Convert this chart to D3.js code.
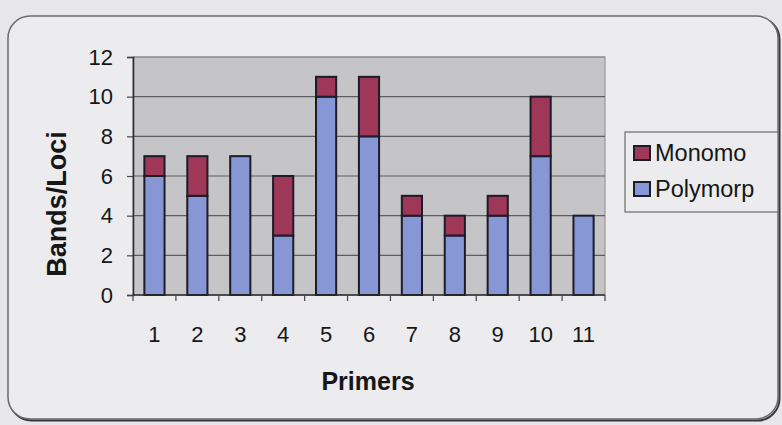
<!DOCTYPE html>
<html>
<head>
<meta charset="utf-8">
<script src="https://cdn.jsdelivr.net/npm/d3@7"></script>
<style>
  html, body { margin: 0; padding: 0; background: #e7e7e9; }
  svg { display: block; font-family: "Liberation Sans", Arial, sans-serif; }
</style>
</head>
<body>
<svg id="chart" width="782" height="425"></svg>
<script>
// Bands per primer, split into polymorphic and monomorphic loci
const primers = ["1", "2", "3", "4", "5", "6", "7", "8", "9", "10", "11"];
const polymorp = [6, 5, 7, 3, 10, 8, 4, 3, 4, 7, 4];
const monomo   = [1, 2, 0, 3, 1, 3, 1, 1, 1, 3, 0];
const seriesNames = ["Polymorp", "Monomo"];
const yTicks = [0, 2, 4, 6, 8, 10, 12];

const colors = { Polymorp: "#8796d4", Monomo: "#9f3759" };

const svg = d3.select("#chart");

// rounded chart frame with a soft shadow along the bottom-right
const frame = { x: 8, y: 16, w: 770, h: 403, r: 22 };
svg.append("rect")
  .attr("x", frame.x + 1.5).attr("y", frame.y + 1.5)
  .attr("width", frame.w).attr("height", frame.h)
  .attr("rx", frame.r)
  .attr("fill", "none").attr("stroke", "#3a3a3a").attr("stroke-width", 2);
svg.append("rect")
  .attr("x", frame.x).attr("y", frame.y)
  .attr("width", frame.w).attr("height", frame.h)
  .attr("rx", frame.r)
  .attr("fill", "#ececee").attr("stroke", "#6a6a6a").attr("stroke-width", 1.5);

const plot = { left: 133, top: 57, right: 605, bottom: 295 };

const x = d3.scaleBand().domain(primers).range([plot.left, plot.right]).padding(0);
const y = d3.scaleLinear().domain([0, 12]).range([plot.bottom, plot.top]);

// plot area
svg.append("rect")
  .attr("x", plot.left).attr("y", plot.top)
  .attr("width", plot.right - plot.left).attr("height", plot.bottom - plot.top)
  .attr("fill", "#c5c5c7").attr("stroke", "#8a8a8a").attr("stroke-width", 1);

// horizontal gridlines
svg.append("g")
  .selectAll("line")
  .data(yTicks.filter(d => d > 0))
  .join("line")
  .attr("x1", plot.left).attr("x2", plot.right)
  .attr("y1", d => y(d)).attr("y2", d => y(d))
  .attr("stroke", d => d === 12 ? "#8a8a8a" : "#5e5e60")
  .attr("stroke-width", 1.2);

// stacked bars
const rows = primers.map((p, i) => ({ primer: p, Polymorp: polymorp[i], Monomo: monomo[i] }));
const stacked = d3.stack().keys(seriesNames)(rows);
const barW = x.bandwidth() * 0.47;

svg.append("g")
  .selectAll("g")
  .data(stacked)
  .join("g")
  .attr("fill", s => colors[s.key])
  .selectAll("rect")
  .data(s => s.filter(d => d[1] > d[0]))
  .join("rect")
  .attr("x", d => x(d.data.primer) + (x.bandwidth() - barW) / 2)
  .attr("y", d => y(d[1]))
  .attr("width", barW)
  .attr("height", d => y(d[0]) - y(d[1]))
  .attr("stroke", "#1c1c28")
  .attr("stroke-width", 2);

// y axis
const yAxis = svg.append("g")
  .attr("transform", `translate(${plot.left},0)`)
  .call(d3.axisLeft(y).tickValues(yTicks).tickSize(6).tickPadding(14));
yAxis.select(".domain").attr("stroke", "#2a2a2a").attr("stroke-width", 1.5);
yAxis.selectAll(".tick line").attr("stroke", "#444").attr("stroke-width", 1.2);
yAxis.selectAll(".tick text")
  .attr("font-size", 22).attr("fill", "#161616")
  .attr("font-family", "'Liberation Sans', Arial, sans-serif");

// x axis: ticks at category boundaries, labels centered on bars
const xAxisG = svg.append("g").attr("transform", `translate(0,${plot.bottom})`);
xAxisG.append("line")
  .attr("x1", plot.left).attr("x2", plot.right)
  .attr("stroke", "#2a2a2a").attr("stroke-width", 1.5);
const boundaries = primers.map(p => x(p)).concat([x(primers[primers.length - 1]) + x.bandwidth()]);
xAxisG.selectAll("line.tick")
  .data(boundaries)
  .join("line")
  .attr("class", "tick")
  .attr("x1", d => d).attr("x2", d => d)
  .attr("y1", 0).attr("y2", 6)
  .attr("stroke", "#444").attr("stroke-width", 1.2);
xAxisG.selectAll("text")
  .data(primers)
  .join("text")
  .attr("x", d => x(d) + x.bandwidth() / 2)
  .attr("y", 47)
  .attr("text-anchor", "middle")
  .attr("font-size", 22)
  .attr("fill", "#161616")
  .text(d => d);

// axis titles
svg.append("text")
  .attr("x", (plot.left + plot.right) / 2 - 1)
  .attr("y", 390)
  .attr("text-anchor", "middle")
  .attr("font-size", 25).attr("font-weight", "bold").attr("fill", "#161616")
  .text("Primers");

svg.append("text")
  .attr("transform", `translate(66,${(plot.top + plot.bottom) / 2 + 28}) rotate(-90)`)
  .attr("text-anchor", "middle")
  .attr("font-size", 27).attr("font-weight", "bold").attr("fill", "#161616")
  .text("Bands/Loci");

// legend
const legend = svg.append("g");
legend.append("rect")
  .attr("x", 625).attr("y", 132).attr("width", 153).attr("height", 80)
  .attr("fill", "#ececee").attr("stroke", "#6a6a6a").attr("stroke-width", 1.2);
const legendItems = ["Monomo", "Polymorp"];
legend.selectAll("g")
  .data(legendItems)
  .join("g")
  .attr("transform", (d, i) => `translate(634,${146 + i * 36})`)
  .each(function (d) {
    const g = d3.select(this);
    g.append("rect")
      .attr("width", 16).attr("height", 14)
      .attr("fill", colors[d]).attr("stroke", "#1c1c28").attr("stroke-width", 2);
    g.append("text")
      .attr("x", 21).attr("y", 15)
      .attr("font-size", 23.5).attr("fill", "#161616")
      .text(d);
  });
</script>
</body>
</html>
